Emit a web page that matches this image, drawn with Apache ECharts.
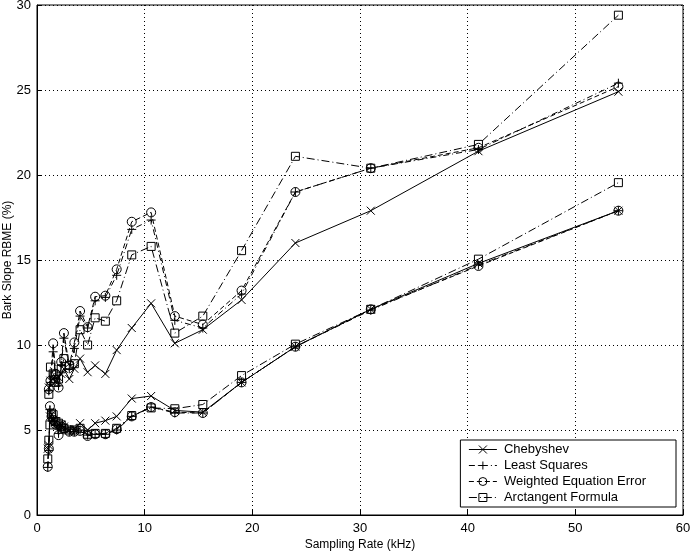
<!DOCTYPE html>
<html>
<head>
<meta charset="utf-8">
<script src="https://cdn.jsdelivr.net/npm/echarts@6/dist/echarts.min.js"></script>
<style>html,body{margin:0;padding:0;background:#fff}#c{width:691px;height:552px}</style>
</head>
<body>
<div id="c"></div>
<script>
// Sampling rates (kHz)
const xUpper = [1.1, 1.25, 1.5, 1.75, 2.0, 2.25, 2.5, 3.0, 3.47, 4.0, 4.7, 5.4, 6.35, 7.4, 8.8, 10.6, 12.8, 15.4, 19.0, 24.0, 31.0, 41.0, 54.0];
const xLower = [1.0, 1.1, 1.2, 1.35, 1.5, 1.75, 2.0, 2.25, 2.5, 3.0, 3.47, 4.0, 4.7, 5.4, 6.35, 7.4, 8.8, 10.6, 12.8, 15.4, 19.0, 24.0, 31.0, 41.0, 54.0];

// Upper group values (%)
const chebUpper = [7.5, 7.9, 8.0, 7.8, 8.1, 8.3, 8.6, 8.0, 8.6, 9.2, 8.4, 8.8, 8.3, 9.7, 11.0, 12.45, 10.1, 10.9, 12.65, 16.0, 17.9, 21.4, 24.9];
const lsUpper   = [7.3, 7.8, 9.6, 8.2, 7.6, 8.8, 10.4, 8.6, 9.8, 11.7, 11.0, 12.6, 12.8, 14.1, 16.8, 17.35, 11.45, 11.0, 13.0, 19.0, 20.4, 21.5, 25.4];
const weUpper   = [7.4, 7.9, 10.1, 8.3, 7.5, 9.0, 10.7, 8.8, 10.15, 12.0, 11.05, 12.84, 12.9, 14.45, 17.25, 17.8, 11.7, 11.2, 13.2, 19.0, 20.4, 21.6, 25.2];
const atUpper   = [7.1, 8.7, 8.3, 7.8, 8.0, 8.6, 9.2, 8.8, 8.9, 10.9, 10.0, 11.6, 11.4, 12.6, 15.3, 15.8, 10.7, 11.7, 15.55, 21.1, 20.4, 21.8, 29.4];

// Lower group values (%)
const chebLower = [3.9, 4.1, 5.8, 5.9, 5.6, 5.5, 5.3, 5.3, 5.2, 5.0, 5.05, 5.4, 5.0, 5.4, 5.55, 5.8, 6.85, 7.0, 6.15, 6.05, 7.8, 9.9, 12.1, 14.8, 17.9];
const lsLower   = [2.8, 3.8, 6.2, 5.7, 5.5, 5.3, 4.8, 5.2, 5.0, 4.9, 4.9, 5.0, 4.7, 4.75, 4.75, 5.0, 5.8, 6.35, 6.0, 6.0, 7.8, 9.9, 12.05, 14.7, 17.9];
const weLower   = [2.84, 3.9, 6.4, 5.8, 5.6, 5.3, 4.7, 5.2, 5.1, 4.9, 4.9, 4.95, 4.65, 4.75, 4.75, 5.05, 5.8, 6.35, 6.05, 6.0, 7.8, 9.9, 12.1, 14.65, 17.9];
const atLower   = [3.3, 4.4, 5.3, 6.0, 5.9, 5.5, 5.4, 5.3, 5.1, 5.0, 5.0, 5.1, 4.75, 4.8, 4.8, 5.1, 5.85, 6.3, 6.25, 6.5, 8.2, 10.05, 12.1, 15.05, 19.55];

const names = ['Chebyshev', 'Least Squares', 'Weighted Equation Error', 'Arctangent Formula'];
const xTicks = [0, 10, 20, 30, 40, 50, 60];
const yTicks = [0, 5, 10, 15, 20, 25, 30];

const FONT = 'Liberation Sans';
const sym = {
  x: 'path://M0,0L10,10M10,0L0,10',
  plus: 'path://M5,0L5,10M0,5L10,5',
  circle: 'path://M10,5A5,5,0,1,1,0,5A5,5,0,1,1,10,5Z',
  square: 'path://M0,0L10,0L10,10L0,10Z'
};
const styles = [
  {symbol: sym.x, size: 8, dash: 'solid'},
  {symbol: sym.plus, size: 9, dash: [6, 3, 1, 3]},
  {symbol: sym.circle, size: 9, dash: [5, 3]},
  {symbol: sym.square, size: 8, dash: [8, 3, 1, 3]}
];
function mk(idx, xs, ys) {
  const s = styles[idx];
  return {
    type: 'line', name: names[idx],
    data: xs.map((x, i) => [x, ys[i]]),
    symbol: s.symbol, symbolSize: s.size, showAllSymbol: true,
    lineStyle: {color: '#000', width: 1, type: s.dash},
    itemStyle: {color: 'rgba(0,0,0,0)', borderColor: '#000', borderWidth: 1},
    emphasis: {disabled: true}, animation: false
  };
}
const series = [
  mk(0, xUpper, chebUpper), mk(1, xUpper, lsUpper), mk(2, xUpper, weUpper), mk(3, xUpper, atUpper),
  mk(0, xLower, chebLower), mk(1, xLower, lsLower), mk(2, xLower, weLower), mk(3, xLower, atLower)
];

const chart = echarts.init(document.getElementById('c'), null, {renderer: 'canvas'});
chart.setOption({
  animation: false,
  backgroundColor: '#fff',
  textStyle: {fontFamily: FONT},
  grid: {left: 37, right: 8, top: 5, bottom: 37, containLabel: false, outerBoundsMode: 'none',
         show: true, borderColor: '#000', borderWidth: 1, backgroundColor: 'transparent'},
  xAxis: {
    type: 'value', min: xTicks[0], max: xTicks[xTicks.length - 1], interval: 10,
    name: 'Sampling Rate (kHz)', nameLocation: 'middle', nameGap: 24, nameMoveOverlap: false,
    nameTextStyle: {fontFamily: FONT, fontSize: 12, color: '#000'},
    axisLine: {show: true, lineStyle: {color: '#000', width: 1}},
    axisTick: {show: true, inside: true, length: 5, lineStyle: {color: '#000'}},
    axisLabel: {fontFamily: FONT, fontSize: 13, color: '#000', margin: 7},
    splitLine: {show: true, lineStyle: {color: '#000', type: [1, 3], width: 1}}
  },
  yAxis: {
    type: 'value', min: yTicks[0], max: yTicks[yTicks.length - 1], interval: 5,
    name: 'Bark Slope RBME (%)', nameLocation: 'middle', nameGap: 23, nameRotate: 90, nameMoveOverlap: false,
    nameTextStyle: {fontFamily: FONT, fontSize: 12, color: '#000'},
    axisLine: {show: true, lineStyle: {color: '#000', width: 1}},
    axisTick: {show: true, inside: true, length: 5, lineStyle: {color: '#000'}},
    axisLabel: {fontFamily: FONT, fontSize: 13, color: '#000', margin: 6},
    splitLine: {show: true, lineStyle: {color: '#000', type: [1, 3], width: 1}}
  },
  legend: {
    data: names, orient: 'vertical', right: 15, bottom: 45,
    backgroundColor: '#fff', borderColor: '#000', borderWidth: 1,
    padding: [3, 30, 3, 8], itemGap: 3, itemWidth: 28, itemHeight: 10,
    lineStyle: {width: 1}, itemStyle: {borderWidth: 1},
    textStyle: {fontFamily: FONT, fontSize: 13, color: '#000', padding: [0, 0, 0, 2]},
    selectedMode: false
  },
  series: series
});
</script>
</body>
</html>
